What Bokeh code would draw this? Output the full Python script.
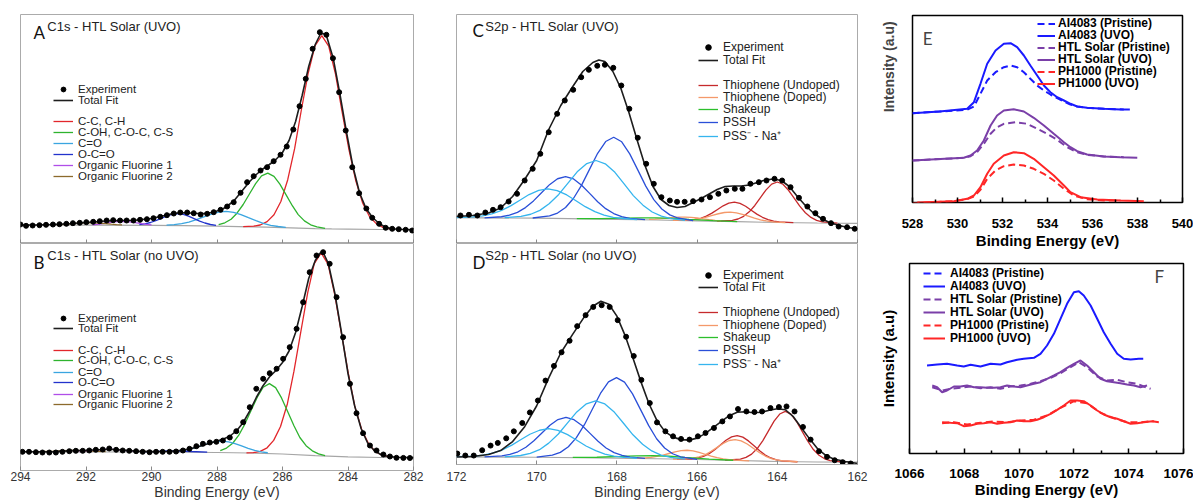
import math
from bokeh.plotting import figure
from bokeh.layouts import row, column
from bokeh.models import (Range1d, FixedTicker, Legend, LegendItem, Label, LinearAxis,
                          CustomLabelingPolicy)
from bokeh.embed import file_html
from bokeh.resources import INLINE

# ---------------- tick labels ----------------
TICKS_AB = [294, 292, 290, 288, 286, 284, 282]
TICKS_CD = [172, 170, 168, 166, 164, 162]
TICKS_E = [528, 530, 532, 534, 536, 538, 540]
TICKS_F = [1066, 1068, 1070, 1072, 1074, 1076]

# ---------------- Panel A : C1s HTL Solar (UVO) ----------------
A_EXP_E = [294.0, 293.83, 293.63, 293.42, 293.22, 293.01, 292.81, 292.6, 292.4, 292.19, 291.99, 291.78, 291.58,
           291.37, 291.17, 290.96, 290.76, 290.55, 290.35, 290.14, 289.94, 289.73, 289.53, 289.32, 289.12, 288.91,
           288.71, 288.50, 288.30, 288.10, 287.89, 287.69, 287.49, 287.28, 287.08, 286.88, 286.67, 286.47, 286.27,
           286.06, 285.87, 285.67, 285.48, 285.29, 285.08, 284.86, 284.66, 284.46, 284.27, 284.07, 283.87, 283.66,
           283.44, 283.26, 283.05, 282.85, 282.65, 282.45, 282.24, 282.04]
A_EXP_I = [19.0, 17.7, 18.0, 18.3, 18.7, 19.0, 19.3, 19.7, 20.3, 20.7, 21.3, 21.7, 22.3, 23.0, 23.3, 23.0, 23.0,
           23.0, 23.7, 24.3, 25.3, 26.7, 28.3, 30.0, 31.0, 31.0, 30.3, 29.0, 29.7, 31.3, 33.7, 37.0, 41.3, 50.7,
           61.3, 67.3, 73.0, 76.3, 82.3, 88.7, 97.0, 114.0, 137.3, 164.7, 194.7, 211.3, 208.7, 185.3, 151.3, 113.0,
           76.3, 50.3, 35.0, 25.7, 19.7, 15.7, 14.7, 14.3, 13.7, 13.0]
A_FIT_E = [294.0, 293.5, 293.0, 292.5, 292.0, 291.5, 291.0, 290.5, 290.0, 289.6, 289.3, 289.0, 288.7, 288.4, 288.1,
           287.8, 287.5, 287.2, 287.0, 286.8, 286.6, 286.4, 286.2, 286.0, 285.8, 285.6, 285.4, 285.2, 285.0, 284.85,
           284.75, 284.65, 284.45, 284.25, 284.05, 283.85, 283.65, 283.45, 283.25, 283.05, 282.85, 282.65, 282.4, 282.0]
A_FIT_I = [18.5, 18.6, 19.0, 19.8, 21.0, 22.3, 23.0, 23.3, 25.0, 28.0, 30.3, 30.8, 30.2, 30.0, 31.3, 35.0, 42.0,
           54.0, 62.0, 69.0, 74.5, 79.0, 84.0, 91.0, 103.0, 122.0, 148.0, 177.0, 199.0, 209.0, 210.0, 207.0, 185.0,
           150.0, 112.0, 77.0, 51.0, 35.0, 26.0, 20.0, 16.3, 14.8, 14.2, 13.8]
A_BG_E = [294, 292, 290, 289, 288, 287, 286.5, 286, 285.5, 285, 284.5, 284, 283, 282]
A_BG_I = [18.5, 18.3, 18.1, 17.8, 17.3, 16.7, 16.3, 15.9, 15.4, 14.9, 14.6, 14.4, 14.0, 13.8]
A_CC_E = [287.20, 286.88, 286.68, 286.47, 286.26, 286.05, 285.84, 285.63, 285.43, 285.22, 285.01, 284.80, 284.59,
          284.38, 284.18, 283.97, 283.76, 283.55, 283.34, 283.13, 282.93, 282.70]
A_CC_I = [16.9, 17.3, 18.5, 21.9, 28.8, 42.0, 63.8, 94.8, 132.5, 169.7, 197.5, 207.8, 197.3, 169.2, 131.7, 93.7,
          62.4, 40.3, 26.8, 19.6, 16.1, 14.6]
A_COH_E = [287.95, 287.76, 287.57, 287.39, 287.20, 287.01, 286.82, 286.64, 286.45, 286.26, 286.08, 285.89, 285.70,
           285.52, 285.33, 285.14, 284.95, 284.70]
A_COH_I = [18.8, 20.7, 24.3, 30.3, 39.0, 49.5, 59.9, 67.6, 70.3, 67.2, 59.3, 48.6, 37.8, 28.9, 22.6, 18.7, 16.6, 15.1]
A_CO_E = [289.54, 289.31, 289.08, 288.86, 288.63, 288.40, 288.17, 287.95, 287.72, 287.49, 287.27, 287.04, 286.81,
          286.59, 286.36, 286.13, 285.90]
A_CO_I = [18.3, 18.85, 19.8, 21.4, 23.8, 26.6, 29.4, 31.4, 32.1, 31.2, 28.85, 25.8, 22.8, 20.1, 18.2, 17.0, 16.2]
A_OCO_E = [290.37, 290.20, 290.03, 289.87, 289.70, 289.53, 289.37, 289.20, 289.03, 288.87, 288.70, 288.53, 288.37,
           288.20, 288.03]
A_OCO_I = [18.8, 19.6, 21.0, 22.85, 25.2, 27.5, 29.2, 29.8, 29.1, 27.3, 24.95, 22.45, 20.5, 19.0, 18.1]
A_F1_E = [291.80, 291.65, 291.50, 291.35, 291.20, 291.05, 290.90, 290.75, 290.60, 290.45, 290.30, 290.15, 290.00]
A_F1_I = [18.7, 19.15, 19.8, 20.6, 21.35, 21.9, 22.15, 21.9, 21.35, 20.6, 19.8, 19.15, 18.7]
A_F2_E = [292.90, 292.73, 292.57, 292.40, 292.23, 292.07, 291.90, 291.73, 291.57, 291.40, 291.23, 291.07, 290.90]
A_F2_I = [18.6, 18.9, 19.3, 19.8, 20.25, 20.6, 20.75, 20.6, 20.25, 19.8, 19.3, 18.9, 18.6]

# ---------------- Panel B : C1s HTL Solar (no UVO) ----------------
B_EXP_E = [293.94, 293.74, 293.53, 293.33, 293.12, 292.92, 292.72, 292.51, 292.31, 292.10, 291.90, 291.70, 291.49,
           291.29, 291.08, 290.88, 290.68, 290.47, 290.27, 290.06, 289.86, 289.66, 289.45, 289.25, 289.04, 288.84,
           288.63, 288.43, 288.22, 288.02, 287.82, 287.61, 287.41, 287.20, 287.00, 286.80, 286.59, 286.39, 286.18,
           285.98, 285.78, 285.57, 285.37, 285.17, 284.96, 284.76, 284.56, 284.35, 284.15, 283.94, 283.74, 283.54,
           283.33, 283.13, 282.92, 282.72, 282.52, 282.31, 282.11]
B_EXP_I = [18.7, 18.7, 18.3, 18.0, 18.0, 18.0, 18.7, 19.3, 19.7, 19.7, 20.0, 20.7, 21.0, 22.0, 20.7, 20.0, 19.7,
           19.3, 18.7, 18.3, 18.7, 18.7, 18.7, 19.0, 20.0, 21.7, 24.3, 26.7, 28.0, 28.7, 30.0, 33.0, 39.3, 48.3,
           63.3, 81.7, 91.7, 97.3, 101.7, 111.7, 123.3, 141.7, 168.3, 198.3, 215.0, 218.3, 206.7, 173.3, 133.3, 86.7,
           57.3, 37.3, 25.0, 20.0, 16.0, 14.0, 12.7, 12.6, 12.5]
B_FIT_E = [294.0, 293.0, 292.4, 292.0, 291.6, 291.3, 291.0, 290.5, 290.0, 289.5, 289.2, 288.9, 288.6, 288.3, 288.0,
           287.8, 287.6, 287.4, 287.2, 287.0, 286.8, 286.6, 286.4, 286.2, 286.0, 285.8, 285.6, 285.4, 285.2, 285.0,
           284.85, 284.75, 284.6, 284.4, 284.2, 284.0, 283.8, 283.6, 283.4, 283.2, 283.0, 282.8, 282.5, 282.0]
B_FIT_I = [18.8, 18.9, 19.9, 20.3, 20.8, 21.2, 20.8, 19.4, 18.9, 19.3, 19.6, 21.2, 23.4, 26.5, 29.5, 31.5, 34.5,
           39.8, 48.0, 59.5, 73.0, 84.5, 93.5, 100.0, 108.0, 119.5, 138.0, 164.0, 192.0, 210.0, 217.5, 217.5, 207.0,
           177.0, 138.0, 97.0, 65.0, 42.0, 27.5, 20.0, 16.0, 14.3, 13.3, 12.9]
B_BG_E = [294, 290, 288, 287, 286, 285, 284, 283, 282]
B_BG_I = [18.7, 18.5, 18.0, 17.5, 16.5, 14.8, 13.6, 13.0, 12.8]
B_CC_E = [287.10, 286.89, 286.68, 286.47, 286.27, 286.06, 285.85, 285.65, 285.44, 285.23, 285.03, 284.82, 284.61,
          284.41, 284.20, 283.99, 283.79, 283.58, 283.37, 283.17, 282.96, 282.70]
B_CC_I = [17.6, 17.8, 19.1, 22.7, 30.1, 44.0, 66.8, 99.3, 138.8, 177.8, 206.9, 217.6, 206.4, 176.7, 137.1, 97.0,
          63.9, 40.8, 26.6, 19.0, 15.2, 13.6]
B_COH_E = [287.90, 287.71, 287.52, 287.34, 287.15, 286.96, 286.77, 286.59, 286.40, 286.21, 286.03, 285.84, 285.65,
           285.47, 285.28, 285.09, 284.90, 284.70]
B_COH_I = [19.95, 22.45, 27.25, 35.05, 46.4, 59.95, 73.35, 83.3, 86.9, 82.9, 72.6, 58.7, 44.7, 33.0, 24.8, 19.7,
           16.7, 14.8]
B_CO_E = [289.25, 289.05, 288.85, 288.65, 288.45, 288.25, 288.05, 287.85, 287.65, 287.45, 287.25, 287.05, 286.85,
          286.65, 286.45]
B_CO_I = [19.1, 19.8, 21.05, 22.9, 25.1, 27.25, 28.9, 29.4, 28.7, 26.9, 24.6, 22.2, 20.1, 18.65, 17.75]
B_OCO_E = [290.3, 289.8, 289.5, 289.3, 289.1, 288.8, 288.3]
B_OCO_I = [18.6, 19.1, 19.5, 19.6, 19.5, 19.0, 18.3]
B_F1_E = [292.2, 291.9, 291.6, 291.45, 291.3, 291.15, 291.0, 290.7, 290.4]
B_F1_I = [18.95, 19.65, 20.7, 21.05, 21.2, 21.05, 20.7, 19.65, 18.95]
B_F2_E = [293.4, 293.0, 292.7, 292.4, 292.1, 291.8, 291.4]
B_F2_I = [18.85, 19.4, 19.9, 20.15, 19.9, 19.4, 18.85]

# ---------------- Panel C : S2p HTL Solar (UVO) ----------------
C_EXP_E = [171.90, 171.69, 171.48, 171.28, 171.09, 170.90, 170.70, 170.49, 170.30, 170.10, 169.91, 169.70, 169.49,
           169.30, 169.09, 168.89, 168.70, 168.49, 168.30, 168.09, 167.89, 167.69, 167.48, 167.27, 167.08, 166.89,
           166.68, 166.50, 166.31, 166.10, 165.89, 165.68, 165.47, 165.27, 165.06, 164.87, 164.67, 164.46, 164.27,
           164.07, 163.88, 163.67, 163.46, 163.25, 163.05, 162.86, 162.66, 162.47, 162.26, 162.07]
C_EXP_I = [28.0, 28.7, 28.0, 31.0, 33.7, 36.3, 42.0, 49.7, 63.0, 74.7, 89.7, 111.3, 129.7, 143.0, 153.7, 166.3,
           173.7, 177.7, 178.7, 175.7, 158.0, 134.7, 105.7, 79.7, 59.7, 46.3, 43.0, 41.7, 41.7, 42.3, 44.0, 46.3,
           49.7, 53.0, 54.7, 54.7, 59.7, 61.3, 63.0, 64.7, 63.0, 56.3, 45.7, 37.0, 30.3, 24.7, 20.3, 17.0, 16.3, 14.7]
C_FIT_E = [172.0, 171.6, 171.2, 170.9, 170.6, 170.3, 170.0, 169.7, 169.4, 169.1, 168.85, 168.6, 168.45, 168.3, 168.1,
           167.9, 167.7, 167.5, 167.3, 167.1, 166.9, 166.7, 166.5, 166.3, 166.1, 165.9, 165.7, 165.5, 165.3, 165.1,
           164.9, 164.7, 164.5, 164.3, 164.1, 163.9, 163.7, 163.5, 163.3, 163.1, 162.9, 162.7, 162.5, 162.3, 162.0]
C_FIT_I = [27.0, 28.0, 30.5, 35.5, 47.0, 64.0, 83.0, 114.0, 138.0, 157.0, 172.0, 181.0, 183.5, 182.0, 172.0, 155.0,
           131.0, 104.0, 78.0, 57.0, 44.0, 38.0, 36.0, 37.0, 41.0, 45.0, 49.5, 54.0, 57.0, 57.5, 57.5, 58.5, 61.0,
           63.5, 64.5, 63.0, 57.0, 47.0, 38.0, 30.5, 25.0, 21.0, 18.5, 16.5, 14.5]
C_BG_E = [172, 170, 168, 167, 166, 165, 164, 163, 162]
C_BG_I = [25.8, 25.3, 24.2, 23.5, 22.7, 21.8, 21.0, 20.5, 20.2]
C_PSSH1_E = [170.10, 169.68, 169.48, 169.28, 169.08, 168.88, 168.68, 168.48, 168.28, 168.08, 167.88, 167.68, 167.48,
             167.28, 167.08, 166.88, 166.68, 166.48, 166.10]
C_PSSH1_I = [25.5, 27.55, 30.45, 36.05, 45.25, 58.4, 74.4, 90.2, 101.95, 106.25, 101.7, 89.65, 73.65, 57.4, 43.95,
             34.5, 28.65, 25.5, 22.9]
C_PSSH2_E = [171.30, 170.88, 170.68, 170.48, 170.28, 170.08, 169.88, 169.68, 169.48, 169.28, 169.08, 168.88, 168.68,
             168.48, 168.28, 168.08, 167.88, 167.68, 167.30]
C_PSSH2_I = [25.7, 26.75, 28.3, 31.15, 35.9, 42.6, 50.75, 58.85, 64.75, 66.95, 64.55, 58.3, 50.1, 41.8, 34.85, 29.95,
             26.9, 25.15, 23.8]
C_PSS1_E = [170.80, 170.39, 170.15, 169.92, 169.69, 169.45, 169.22, 168.99, 168.75, 168.52, 168.29, 168.05, 167.82,
            167.59, 167.35, 167.12, 166.89, 166.65, 166.30]
C_PSS1_I = [25.8, 27.1, 29.25, 33.15, 39.75, 49.05, 60.4, 71.7, 79.95, 83.0, 79.65, 71.15, 59.6, 47.9, 38.35, 31.5,
            27.3, 24.95, 23.1]
C_PSS2_E = [172.0, 171.59, 171.35, 171.12, 170.89, 170.65, 170.42, 170.19, 169.95, 169.72, 169.49, 169.25, 169.02,
            168.79, 168.55, 168.32, 168.09, 167.85, 167.50]
C_PSS2_I = [25.9, 26.6, 27.55, 29.6, 32.85, 37.6, 43.3, 48.95, 53.2, 54.7, 52.95, 48.55, 42.7, 36.8, 31.85, 28.4,
            26.15, 25.0, 23.9]
C_TU1_E = [165.50, 165.12, 164.98, 164.84, 164.70, 164.56, 164.42, 164.28, 164.14, 164.00, 163.86, 163.72, 163.58,
           163.44, 163.30, 163.16, 163.02, 162.88, 162.50]
C_TU1_I = [22.3, 23.1, 24.5, 27.2, 31.65, 38.05, 45.95, 53.6, 59.4, 61.5, 59.25, 53.25, 45.4, 37.3, 30.75, 26.1,
           23.2, 21.65, 20.4]
C_TU2_E = [166.60, 166.19, 166.05, 165.91, 165.77, 165.63, 165.49, 165.35, 165.21, 165.07, 164.93, 164.79, 164.65,
           164.51, 164.37, 164.23, 164.09, 163.95, 163.60]
C_TU2_I = [23.1, 23.45, 24.05, 25.2, 27.35, 30.35, 34.05, 37.7, 40.4, 41.35, 40.15, 37.25, 33.3, 29.4, 26.2, 23.8,
           22.35, 21.6, 20.8]
C_TD1_E = [166.60, 166.22, 166.07, 165.92, 165.77, 165.62, 165.47, 165.32, 165.17, 165.02, 164.87, 164.72, 164.57,
           164.42, 164.27, 164.12, 163.80]
C_TD1_I = [23.1, 23.5, 24.05, 24.9, 26.35, 28.05, 29.75, 31.0, 31.35, 30.7, 29.2, 27.3, 25.35, 23.65, 22.55, 21.7, 20.9]
C_TD2_E = [167.20, 167.05, 166.90, 166.75, 166.60, 166.45, 166.30, 166.15, 166.00, 165.85, 165.70, 165.55, 165.40]
C_TD2_I = [24.15, 24.45, 24.8, 25.4, 26.0, 26.35, 26.45, 26.1, 25.5, 24.65, 23.85, 23.2, 22.65]
C_SH_E = [169.0, 168.4, 167.8, 167.4, 167.0, 166.6, 166.2, 165.6, 165.0]
C_SH_I = [24.9, 24.95, 25.4, 25.7, 25.7, 25.1, 24.15, 22.8, 21.9]

# ---------------- Panel D : S2p HTL Solar (no UVO) ----------------
D_EXP_E = [171.98, 171.78, 171.57, 171.36, 171.15, 170.97, 170.76, 170.57, 170.36, 170.17, 169.97, 169.78, 169.57,
           169.38, 169.18, 168.99, 168.78, 168.59, 168.38, 168.18, 167.98, 167.77, 167.58, 167.39, 167.18, 167.00,
           166.79, 166.60, 166.40, 166.19, 165.98, 165.79, 165.58, 165.37, 165.18, 164.98, 164.77, 164.57, 164.38,
           164.17, 163.96, 163.77, 163.57, 163.36, 163.17, 162.96, 162.76, 162.57, 162.37, 162.17]
D_EXP_I = [8.0, 6.0, 6.0, 11.3, 16.0, 18.7, 23.3, 30.3, 38.7, 49.3, 61.3, 81.3, 96.0, 109.7, 121.3, 136.0, 147.0,
           155.3, 157.0, 155.3, 142.0, 125.3, 106.0, 82.0, 58.7, 39.3, 30.3, 25.3, 22.7, 22.0, 25.3, 28.7, 33.7,
           40.3, 45.3, 52.7, 50.3, 49.7, 50.3, 53.7, 54.7, 55.3, 50.3, 34.7, 22.0, 10.3, 4.7, 1.3, -0.7, -2.0]
D_FIT_E = [172.0, 171.6, 171.2, 170.9, 170.6, 170.3, 170.0, 169.7, 169.4, 169.1, 168.8, 168.6, 168.4, 168.2, 168.0,
           167.8, 167.6, 167.4, 167.2, 167.0, 166.8, 166.6, 166.4, 166.2, 166.0, 165.8, 165.6, 165.4, 165.2, 165.0,
           164.8, 164.6, 164.4, 164.2, 164.0, 163.8, 163.6, 163.4, 163.2, 163.0, 162.8, 162.6, 162.3, 162.0]
D_FIT_I = [4.5, 5.0, 7.0, 11.0, 20.0, 35.0, 56.0, 84.0, 109.0, 128.0, 146.0, 156.0, 161.0, 158.0, 146.0, 127.0,
           104.0, 80.0, 58.0, 41.0, 30.0, 24.5, 22.0, 21.5, 23.5, 28.0, 34.0, 40.0, 46.0, 49.5, 50.0, 49.0, 49.5,
           51.5, 53.0, 52.0, 45.0, 34.0, 23.0, 13.0, 6.5, 2.5, 0.0, -2.0]
D_BG_E = [172, 170, 168, 167, 166, 165, 164, 163, 162]
D_BG_I = [4.7, 4.3, 3.5, 2.8, 2.0, 1.0, 0.0, -0.5, -0.7]
D_PSSH1_E = [170.00, 169.61, 169.41, 169.21, 169.01, 168.81, 168.61, 168.41, 168.21, 168.01, 167.81, 167.61, 167.41,
             167.21, 167.01, 166.81, 166.61, 166.41, 166.00]
D_PSSH1_I = [4.5, 6.4, 9.2, 14.85, 24.0, 37.0, 52.75, 68.35, 79.95, 84.3, 79.75, 67.9, 52.1, 36.3, 22.9, 13.55, 7.8,
             4.65, 2.1]
D_PSSH2_E = [171.30, 170.87, 170.67, 170.47, 170.27, 170.07, 169.87, 169.67, 169.47, 169.27, 169.07, 168.87, 168.67,
             168.47, 168.27, 168.07, 167.87, 167.67, 167.30]
D_PSSH2_I = [4.6, 5.65, 7.1, 9.75, 14.3, 20.9, 28.7, 36.45, 42.15, 44.3, 42.0, 36.15, 28.25, 20.3, 13.6, 8.9, 6.1,
             4.45, 3.1]
D_PSS1_E = [170.80, 170.40, 170.16, 169.93, 169.70, 169.46, 169.23, 169.00, 168.76, 168.53, 168.30, 168.06, 167.83,
            167.60, 167.36, 167.13, 166.90, 166.66, 166.30]
D_PSS1_I = [4.6, 6.05, 8.1, 11.9, 18.45, 27.65, 38.8, 49.8, 58.0, 61.0, 57.8, 49.4, 38.15, 26.8, 17.35, 10.6, 6.5,
            4.25, 2.5]
D_PSS2_E = [172.00, 171.57, 171.33, 171.10, 170.87, 170.63, 170.40, 170.17, 169.93, 169.70, 169.47, 169.23, 169.00,
            168.77, 168.53, 168.30, 168.07, 167.83, 167.50]
D_PSS2_I = [4.9, 5.45, 6.5, 8.45, 11.5, 16.25, 21.85, 27.4, 31.4, 32.95, 31.25, 27.05, 21.4, 15.6, 10.9, 7.5, 5.4,
            4.15, 3.3]
D_TU1_E = [165.30, 164.92, 164.78, 164.64, 164.50, 164.36, 164.22, 164.08, 163.94, 163.80, 163.66, 163.52, 163.38,
           163.24, 163.10, 162.96, 162.82, 162.68, 162.30]
D_TU1_I = [1.3, 2.4, 4.1, 7.45, 13.0, 21.05, 30.8, 40.5, 47.7, 50.3, 47.55, 40.15, 30.3, 20.35, 12.05, 6.3, 2.75,
           0.9, -0.65]
D_TU2_E = [166.50, 166.12, 165.98, 165.84, 165.70, 165.56, 165.42, 165.28, 165.14, 165.00, 164.86, 164.72, 164.58,
           164.44, 164.30, 164.16, 164.02, 163.88, 163.50]
D_TU2_I = [2.5, 2.8, 3.65, 5.25, 7.9, 11.85, 16.6, 21.3, 24.8, 26.0, 24.5, 20.7, 15.75, 10.75, 6.5, 3.55, 1.65,
           0.65, -0.25]
D_TD1_E = [166.60, 166.25, 166.10, 165.95, 165.80, 165.65, 165.50, 165.35, 165.20, 165.05, 164.90, 164.75, 164.60,
           164.45, 164.30, 164.15, 164.00, 163.85, 163.50]
D_TD1_I = [2.5, 2.8, 3.5, 4.75, 6.7, 10.25, 14.2, 18.15, 21.1, 22.05, 20.8, 17.55, 13.3, 9.05, 5.5, 2.95, 1.4,
           0.55, -0.25]
D_TD2_E = [167.80, 167.45, 167.30, 167.15, 167.00, 166.85, 166.70, 166.55, 166.40, 166.25, 166.10, 165.95, 165.80,
           165.65, 165.50, 165.35, 165.20, 165.05, 164.70]
D_TD2_I = [3.4, 3.4, 3.6, 4.1, 5.1, 6.35, 8.05, 9.75, 10.9, 11.3, 10.7, 9.25, 7.3, 5.35, 3.8, 2.55, 1.8, 1.35, 0.7]
D_SH_E = [169.1, 168.5, 167.9, 167.5, 167.1, 166.7, 166.3, 165.7, 165.1]
D_SH_I = [4.1, 4.3, 5.1, 5.75, 5.95, 5.3, 4.1, 2.35, 1.25]

# ---------------- Panel E : O1s ----------------
E_BLUE_UVO_X = [528.0, 529.2, 530.43, 530.73, 531.02, 531.32, 531.69, 532.06, 532.36, 532.65, 532.95, 533.24, 533.54,
                533.84, 534.13, 534.43, 534.73, 535.02, 535.32, 535.76, 536.5, 537.24, 537.66]
E_BLUE_UVO_Y = [89.3, 91.0, 93.7, 100.3, 118.7, 138.7, 152.0, 158.7, 159.3, 155.3, 147.0, 137.0, 127.0, 117.0, 110.3,
                105.3, 102.0, 98.7, 96.0, 94.7, 93.7, 93.0, 93.0]
E_BLUE_PRI_X = [528.0, 529.2, 530.43, 530.73, 531.02, 531.32, 531.69, 532.06, 532.36, 532.65, 532.95, 533.24, 533.54,
                533.84, 534.13, 534.43, 534.73, 535.02, 535.32, 535.76, 536.5, 537.39]
E_BLUE_PRI_Y = [89.3, 91.0, 92.7, 96.0, 108.7, 122.0, 130.3, 135.3, 137.0, 135.3, 130.3, 123.7, 117.0, 112.0, 108.0,
                104.3, 101.0, 98.0, 96.0, 94.7, 93.7, 93.0]
E_PUR_UVO_X = [528.0, 530.28, 530.58, 530.87, 531.17, 531.47, 531.76, 532.06, 532.5, 532.95, 533.39, 533.84, 534.28,
               534.73, 535.02, 535.32, 535.76, 536.5, 537.24, 537.99]
E_PUR_UVO_Y = [42.0, 44.7, 47.0, 52.0, 62.0, 77.0, 87.0, 92.0, 93.3, 91.0, 84.7, 77.0, 68.7, 60.3, 55.3, 51.3, 48.0,
               46.0, 45.3, 44.7]
E_PUR_PRI_X = [528.0, 530.28, 530.58, 530.87, 531.17, 531.47, 531.76, 532.06, 532.58, 533.1, 533.54, 533.99, 534.43,
               534.87, 535.32, 535.76, 536.5, 537.39]
E_PUR_PRI_Y = [42.0, 44.7, 46.3, 50.3, 58.7, 68.7, 75.3, 78.7, 80.3, 78.7, 73.7, 68.7, 62.7, 55.3, 50.3, 47.7, 46.0,
               45.3]
E_RED_UVO_X = [528.21, 529.84, 530.43, 530.73, 531.02, 531.32, 531.61, 532.06, 532.5, 532.95, 533.39, 533.84, 534.28,
               534.73, 535.02, 535.47, 536.21, 537.24, 538.28]
E_RED_UVO_Y = [0.0, 1.3, 3.7, 7.0, 15.3, 28.7, 38.7, 47.0, 50.3, 49.3, 43.7, 35.3, 27.0, 17.0, 10.3, 5.3, 3.0, 2.0,
               1.3]
E_RED_PRI_X = [528.0, 529.84, 530.43, 530.73, 531.02, 531.32, 531.69, 532.06, 532.5, 532.95, 533.39, 533.84, 534.28,
               534.73, 535.17, 535.76, 536.5, 537.24]
E_RED_PRI_Y = [-0.7, 1.3, 3.3, 6.0, 12.7, 23.7, 32.0, 36.3, 38.0, 37.0, 33.7, 28.7, 22.0, 13.7, 7.0, 3.3, 2.0, 2.0]

# ---------------- Panel F : F1s ----------------
# AI4083 (Pristine) has no F1s trace in panel F: its series is a single missing value (legend entry only)
F_BLUE_PRI_X = [float("nan")]
F_BLUE_PRI_Y = [float("nan")]
F_BLUE_UVO_X = [1066.64, 1067.01, 1067.37, 1067.74, 1067.98, 1068.23, 1068.59, 1068.96, 1069.32, 1069.56, 1069.93,
                1070.17, 1070.54, 1070.78, 1071.02, 1071.27, 1071.51, 1071.75, 1072.0, 1072.18, 1072.36, 1072.61,
                1072.85, 1073.09, 1073.34, 1073.58, 1073.82, 1074.07, 1074.37, 1074.53]
F_BLUE_UVO_Y = [88.0, 89.0, 89.7, 88.0, 87.0, 88.7, 87.0, 89.7, 89.0, 91.3, 93.7, 94.7, 95.7, 99.7, 108.0, 119.7,
                134.7, 149.7, 161.3, 162.3, 158.0, 148.0, 134.7, 121.3, 109.7, 99.7, 94.7, 94.0, 94.7, 94.7]
F_PUR_UVO_X = [1066.83, 1067.01, 1067.19, 1067.37, 1067.62, 1067.86, 1068.1, 1068.35, 1068.59, 1068.83, 1069.08,
               1069.32, 1069.56, 1069.81, 1070.05, 1070.29, 1070.54, 1070.78, 1071.02, 1071.27, 1071.51, 1071.75,
               1072.0, 1072.24, 1072.48, 1072.73, 1072.97, 1073.21, 1073.46, 1073.7, 1073.94, 1074.19, 1074.43, 1074.67]
F_PUR_UVO_Y = [68.0, 66.3, 61.3, 63.0, 67.0, 67.0, 68.0, 66.3, 66.3, 65.7, 65.7, 66.3, 68.0, 67.0, 66.3, 68.0, 69.7,
               71.3, 74.7, 78.0, 81.3, 85.7, 89.7, 93.0, 88.0, 81.3, 74.7, 72.3, 71.3, 70.3, 69.0, 68.0, 66.3, 68.0]
F_PUR_PRI_X = [1066.83, 1067.19, 1067.5, 1067.86, 1068.23, 1068.59, 1068.96, 1069.32, 1069.69, 1070.05, 1070.42,
               1070.78, 1071.15, 1071.51, 1071.88, 1072.18, 1072.48, 1072.85, 1073.21, 1073.58, 1073.94, 1074.31,
               1074.55, 1074.8]
F_PUR_PRI_Y = [66.3, 63.0, 64.7, 65.7, 67.0, 65.3, 66.3, 64.7, 67.0, 68.0, 69.7, 72.3, 75.7, 80.3, 86.3, 91.3, 86.3,
               77.0, 73.0, 73.7, 71.3, 69.7, 67.0, 64.7]
F_RED_UVO_X = [1067.19, 1067.5, 1067.74, 1067.98, 1068.23, 1068.47, 1068.71, 1068.96, 1069.2, 1069.44, 1069.69,
               1069.93, 1070.17, 1070.42, 1070.66, 1070.9, 1071.15, 1071.39, 1071.63, 1071.88, 1072.12, 1072.36,
               1072.61, 1072.85, 1073.09, 1073.34, 1073.58, 1073.82, 1074.07, 1074.31, 1074.55, 1074.86, 1075.1]
F_RED_UVO_Y = [31.3, 30.7, 30.3, 27.3, 28.0, 29.7, 30.3, 31.3, 29.7, 30.7, 31.3, 33.0, 32.3, 32.3, 33.7, 36.3, 39.7,
               43.7, 48.0, 53.0, 53.0, 52.3, 48.0, 43.0, 39.0, 36.3, 34.7, 32.3, 29.7, 30.3, 31.3, 32.3, 31.3]
F_RED_PRI_X = [1067.19, 1067.62, 1068.1, 1068.59, 1069.08, 1069.56, 1070.05, 1070.54, 1071.02, 1071.51, 1072.0,
               1072.48, 1072.97, 1073.46, 1073.94, 1074.43, 1074.92]
F_RED_PRI_Y = [30.3, 31.3, 29.0, 30.7, 32.0, 31.3, 33.0, 33.7, 38.0, 45.7, 52.3, 50.3, 40.7, 35.3, 31.3, 31.3, 32.3]

# ---------------- styling ----------------
SANS = "Liberation Sans"
LETTER = "Lato"
FRAME_GRAY = "#ababab"

C1S_COLORS = {"cc": "#e2262b", "coh": "#2eb32e", "co": "#3aa5e0", "oco": "#2233cc", "f1": "#b04ee8", "f2": "#8c6a2c"}
S2P_COLORS = {"tu": "#c62a2c", "td": "#f4996a", "sh": "#2cbf2c", "pssh": "#2a4fd8", "pss": "#35b5ee"}
E_BLUE, E_PURPLE, E_RED = "#1a1aff", "#7a3fa8", "#ff2626"


def base_fig(w, h, xr, yr, bl, br, bt, bb, outline=FRAME_GRAY, ow=1.0):
    p = figure(width=w, height=h, x_range=Range1d(xr[0], xr[1]), y_range=Range1d(yr[0], yr[1]),
               output_backend="svg", toolbar_location=None, y_axis_location=None,
               min_border_left=bl, min_border_right=br, min_border_top=bt, min_border_bottom=bb)
    p.xgrid.visible = False
    p.ygrid.visible = False
    p.outline_line_color = outline
    p.outline_line_width = ow
    p.background_fill_color = "white"
    p.border_fill_color = "white"
    return p


def xps_axis(p, ticks, labels, standoff=1, label_standoff=0):
    ax = p.xaxis[0]
    ax.ticker = FixedTicker(ticks=ticks)
    ax.axis_line_color = FRAME_GRAY
    ax.major_tick_line_color = "#8a8a8a"
    ax.major_tick_in = 4
    ax.major_tick_out = 0
    ax.minor_tick_in = 0
    ax.minor_tick_out = 0
    if labels:
        ax.major_label_text_font = SANS
        ax.major_label_text_font_size = "12px"
        ax.major_label_text_color = "#333333"
        ax.major_label_standoff = standoff
        ax.axis_label = "Binding Energy (eV)"
        ax.axis_label_text_font = SANS
        ax.axis_label_text_font_size = "14px"
        ax.axis_label_text_font_style = "normal"
        ax.axis_label_text_color = "#333333"
        ax.axis_label_standoff = label_standoff
    else:
        # tick marks only: the labeling policy keeps no label
        ax.major_label_policy = CustomLabelingPolicy(code="if (false) { yield 0 }")
        ax.major_label_text_font_size = "0px"
        ax.major_label_standoff = 0


def row_legends(p, entries, x, centers, frame_h, h=14, gw=20, standoff=5, size="12px", style="normal",
                color="#222222"):
    """One single-row Legend per entry so that each row sits where the reference puts it."""
    for (label, r), yc in zip(entries, centers):
        lg = Legend(items=[LegendItem(label=label, renderers=[r])], location=(x, round(frame_h - yc - h / 2)),
                    glyph_width=gw, glyph_height=h, label_height=h, label_standoff=standoff, spacing=0,
                    padding=0, margin=0, border_line_color=None, background_fill_alpha=0)
        lg.label_text_font = SANS
        lg.label_text_font_size = size
        lg.label_text_font_style = style
        lg.label_text_color = color
        p.add_layout(lg)


def add_title(p, x, y, txt, letter, lx, ly):
    p.add_layout(Label(x=x, y=y, text=txt, text_font=SANS, text_font_size="13px", text_color="#222222",
                       text_baseline="middle", text_align="left"))
    p.add_layout(Label(x=lx, y=ly, text=letter, text_font=LETTER, text_font_size="17px", text_color="#111111",
                       text_baseline="middle", text_align="left"))


def c1s_panel(p, exp, fit, bg, comps, centers, frame_h):
    p.line(bg[0], bg[1], line_color="#a6a6a6", line_width=1.2)
    rs = []
    for key, e, i in comps:
        rs.append(p.line(e, i, line_color=C1S_COLORS[key], line_width=1.3))
    rf = p.line(fit[0], fit[1], line_color="#1e1e1e", line_width=1.6)
    re = p.scatter(exp[0], exp[1], size=5, color="black")
    names = ["C-C, C-H", "C-OH, C-O-C, C-S", "C=O", "O-C=O", "Organic Fluorine 1", "Organic Fluorine 2"]
    entries = [("Experiment", re), ("Total Fit", rf)] + list(zip(names, rs))
    row_legends(p, entries, 33, centers, frame_h, h=12, size="11.5px")


def s2p_panel(p, exp, fit, bg, comps, centers, frame_h):
    p.line(bg[0], bg[1], line_color="#a6a6a6", line_width=1.2)
    rs = {}
    for key, es, is_ in comps:
        rs[key] = p.multi_line(es, is_, line_color=S2P_COLORS[key], line_width=1.3)
    rf = p.line(fit[0], fit[1], line_color="#1e1e1e", line_width=1.6)
    re = p.scatter(exp[0], exp[1], size=5, color="black")
    names = [("tu", "Thiophene (Undoped)"), ("td", "Thiophene (Doped)"), ("sh", "Shakeup"), ("pssh", "PSSH"),
             ("pss", "PSS\u207b - Na\u207a")]
    entries = [("Experiment", re), ("Total Fit", rf)] + [(n, rs[k]) for k, n in names]
    row_legends(p, entries, 242, centers, frame_h)


# ---------------- Panel A ----------------
pa = base_fig(435, 243, (294, 282), (0, 229), 20, 22, 14, 0)
xps_axis(pa, TICKS_AB, False)
c1s_panel(pa, (A_EXP_E, A_EXP_I), (A_FIT_E, A_FIT_I), (A_BG_E, A_BG_I),
          [("cc", A_CC_E, A_CC_I), ("coh", A_COH_E, A_COH_I), ("co", A_CO_E, A_CO_I),
           ("oco", A_OCO_E, A_OCO_I), ("f1", A_F1_E, A_F1_I), ("f2", A_F2_E, A_F2_I)],
          [89 - 14, 100 - 14, 121 - 14, 132 - 14, 143 - 14, 154 - 14, 165 - 14, 176 - 14], 229)
add_title(pa, 293.18, 217.3, "C1s - HTL Solar (UVO)", "A", 293.6, 211)

# ---------------- Panel B ----------------
pb = base_fig(435, 259, (294, 282), (0, 227), 20, 22, 0, 32)
xps_axis(pb, TICKS_AB, True, standoff=1, label_standoff=0)
c1s_panel(pb, (B_EXP_E, B_EXP_I), (B_FIT_E, B_FIT_I), (B_BG_E, B_BG_I),
          [("cc", B_CC_E, B_CC_I), ("coh", B_COH_E, B_COH_I), ("co", B_CO_E, B_CO_I),
           ("oco", B_OCO_E, B_OCO_I), ("f1", B_F1_E, B_F1_I), ("f2", B_F2_E, B_F2_I)],
          [317.5 - 243, 328.5 - 243, 349.5 - 243, 360.5 - 243, 371.5 - 243, 382.5 - 243, 393.5 - 243,
           404.5 - 243], 227)
add_title(pb, 293.18, 215, "C1s - HTL Solar (no UVO)", "B", 293.6, 208)

# ---------------- Panel C ----------------
pc = base_fig(435, 243, (172, 162), (0, 229), 21, 13, 14, 0)
xps_axis(pc, TICKS_CD, False)
s2p_panel(pc, (C_EXP_E, C_EXP_I), (C_FIT_E, C_FIT_I), (C_BG_E, C_BG_I),
          [("tu", [C_TU1_E, C_TU2_E], [C_TU1_I, C_TU2_I]), ("td", [C_TD1_E, C_TD2_E], [C_TD1_I, C_TD2_I]),
           ("sh", [C_SH_E], [C_SH_I]), ("pssh", [C_PSSH1_E, C_PSSH2_E], [C_PSSH1_I, C_PSSH2_I]),
           ("pss", [C_PSS1_E, C_PSS2_E], [C_PSS1_I, C_PSS2_I])],
          [47 - 14, 60 - 14, 85 - 14, 97 - 14, 109 - 14, 122 - 14, 137 - 14], 229)
add_title(pc, 171.28, 217.3, "S2p - HTL Solar (UVO)", "C", 171.6, 213)

# ---------------- Panel D ----------------
pd = base_fig(435, 259, (172, 162), (-3, 219), 21, 13, 0, 37)
xps_axis(pd, TICKS_CD, True, standoff=7, label_standoff=0)
s2p_panel(pd, (D_EXP_E, D_EXP_I), (D_FIT_E, D_FIT_I), (D_BG_E, D_BG_I),
          [("tu", [D_TU1_E, D_TU2_E], [D_TU1_I, D_TU2_I]), ("td", [D_TD1_E, D_TD2_E], [D_TD1_I, D_TD2_I]),
           ("sh", [D_SH_E], [D_SH_I]), ("pssh", [D_PSSH1_E, D_PSSH2_E], [D_PSSH1_I, D_PSSH2_I]),
           ("pss", [D_PSS1_E, D_PSS2_E], [D_PSS1_I, D_PSS2_I])],
          [276 - 243, 288.5 - 243, 313 - 243, 326 - 243, 338.5 - 243, 351 - 243, 366 - 243], 222)
add_title(pd, 171.28, 207, "S2p - HTL Solar (no UVO)", "D", 171.6, 200.3)


# ---------------- Panels E and F ----------------
def ef_axis(p, ticks, lab_size, standoff, title_standoff):
    ax = p.xaxis[0]
    ax.ticker = FixedTicker(ticks=ticks, minor_ticks=[t + 1 for t in ticks[:-1]])
    ax.axis_line_color = None
    ax.major_tick_line_color = "black"
    ax.minor_tick_line_color = "black"
    ax.major_tick_line_width = 1.5
    ax.minor_tick_line_width = 1.5
    ax.major_tick_in = 5
    ax.major_tick_out = 0
    ax.minor_tick_in = 3
    ax.minor_tick_out = 0
    ax.major_label_text_font = SANS
    ax.major_label_text_font_style = "bold"
    ax.major_label_text_font_size = lab_size
    ax.major_label_text_color = "black"
    ax.major_label_standoff = standoff
    ax.axis_label = "Binding Energy (eV)"
    ax.axis_label_text_font = SANS
    ax.axis_label_text_font_style = "bold"
    ax.axis_label_text_font_size = "15px"
    ax.axis_label_text_color = "black"
    ax.axis_label_standoff = title_standoff


def intensity_axis(p, standoff):
    ax = LinearAxis(ticker=FixedTicker(ticks=[]), axis_label="Intensity (a.u)")
    ax.axis_line_color = None
    ax.major_tick_line_color = None
    ax.minor_tick_line_color = None
    ax.major_label_standoff = 0
    ax.axis_label_standoff = standoff
    ax.axis_label_text_font = SANS
    ax.axis_label_text_font_style = "bold"
    ax.axis_label_text_font_size = "15px"
    ax.axis_label_text_color = "black"
    p.add_layout(ax, "left")


LEG_NAMES = ["AI4083 (Pristine)", "AI4083 (UVO)", "HTL Solar (Pristine)", "HTL Solar (UVO)",
             "PH1000 (Pristine)", "PH1000 (UVO)"]

# narrow blank strip that carries panel E's y title (placed off-centre, as in the reference)
pe_lab = figure(width=30, height=255, x_range=Range1d(0, 30), y_range=Range1d(0, 255), output_backend="svg",
                toolbar_location=None, x_axis_location=None, y_axis_location=None,
                min_border_left=0, min_border_right=0, min_border_top=0, min_border_bottom=0)
pe_lab.xgrid.visible = False
pe_lab.ygrid.visible = False
pe_lab.outline_line_color = None
pe_lab.add_layout(Label(x=18, y=185, text="Intensity (a.u)", angle=math.pi / 2, text_align="center",
                        text_baseline="middle", text_font=SANS, text_font_style="bold", text_font_size="14px"))

pe = base_fig(293, 255, (528, 540), (0, 187), 12, 11, 15, 53, outline="black", ow=1.5)
ef_axis(pe, TICKS_E, "13px", 16, 1)
e_r = [
    pe.line(E_BLUE_PRI_X, E_BLUE_PRI_Y, line_color=E_BLUE, line_width=2, line_dash="7 4"),
    pe.line(E_BLUE_UVO_X, E_BLUE_UVO_Y, line_color=E_BLUE, line_width=2),
    pe.line(E_PUR_PRI_X, E_PUR_PRI_Y, line_color=E_PURPLE, line_width=2, line_dash="7 4"),
    pe.line(E_PUR_UVO_X, E_PUR_UVO_Y, line_color=E_PURPLE, line_width=2),
    pe.line(E_RED_PRI_X, E_RED_PRI_Y, line_color=E_RED, line_width=2, line_dash="7 4"),
    pe.line(E_RED_UVO_X, E_RED_UVO_Y, line_color=E_RED, line_width=2),
]
row_legends(pe, list(zip(LEG_NAMES, e_r)), 125, [8, 20, 32, 44, 56, 68], 187, h=13, gw=18, standoff=3,
            size="12px", style="bold", color="black")
pe.add_layout(Label(x=528.67, y=164, text="E", text_align="center", text_baseline="middle",
                    text_font=LETTER, text_font_size="17px"))

pf = base_fig(323, 247, (1066, 1076), (0, 190), 39, 10, 8, 49, outline="black", ow=1.5)
ef_axis(pf, TICKS_F, "13.5px", 15, 0)
intensity_axis(pf, 13)
f_r = [
    pf.line(F_BLUE_PRI_X, F_BLUE_PRI_Y, line_color=E_BLUE, line_width=2, line_dash="7 4"),
    pf.line(F_BLUE_UVO_X, F_BLUE_UVO_Y, line_color=E_BLUE, line_width=2),
    pf.line(F_PUR_PRI_X, F_PUR_PRI_Y, line_color=E_PURPLE, line_width=2, line_dash="7 4"),
    pf.line(F_PUR_UVO_X, F_PUR_UVO_Y, line_color=E_PURPLE, line_width=2),
    pf.line(F_RED_PRI_X, F_RED_PRI_Y, line_color=E_RED, line_width=2, line_dash="7 4"),
    pf.line(F_RED_UVO_X, F_RED_UVO_Y, line_color=E_RED, line_width=2),
]
row_legends(pf, list(zip(LEG_NAMES, f_r)), 14, [10, 23, 36, 49, 62, 75], 190, h=14, gw=22, standoff=5,
            size="12px", style="bold", color="black")
pf.add_layout(Label(x=1075.12, y=177, text="F", text_align="center", text_baseline="middle",
                    text_font=LETTER, text_font_size="17px"))

layout = row(column(pa, pb), column(pc, pd), column(row(pe_lab, pe), pf))
open("out.html", "w").write(file_html(layout, INLINE, title="XPS spectra"))
